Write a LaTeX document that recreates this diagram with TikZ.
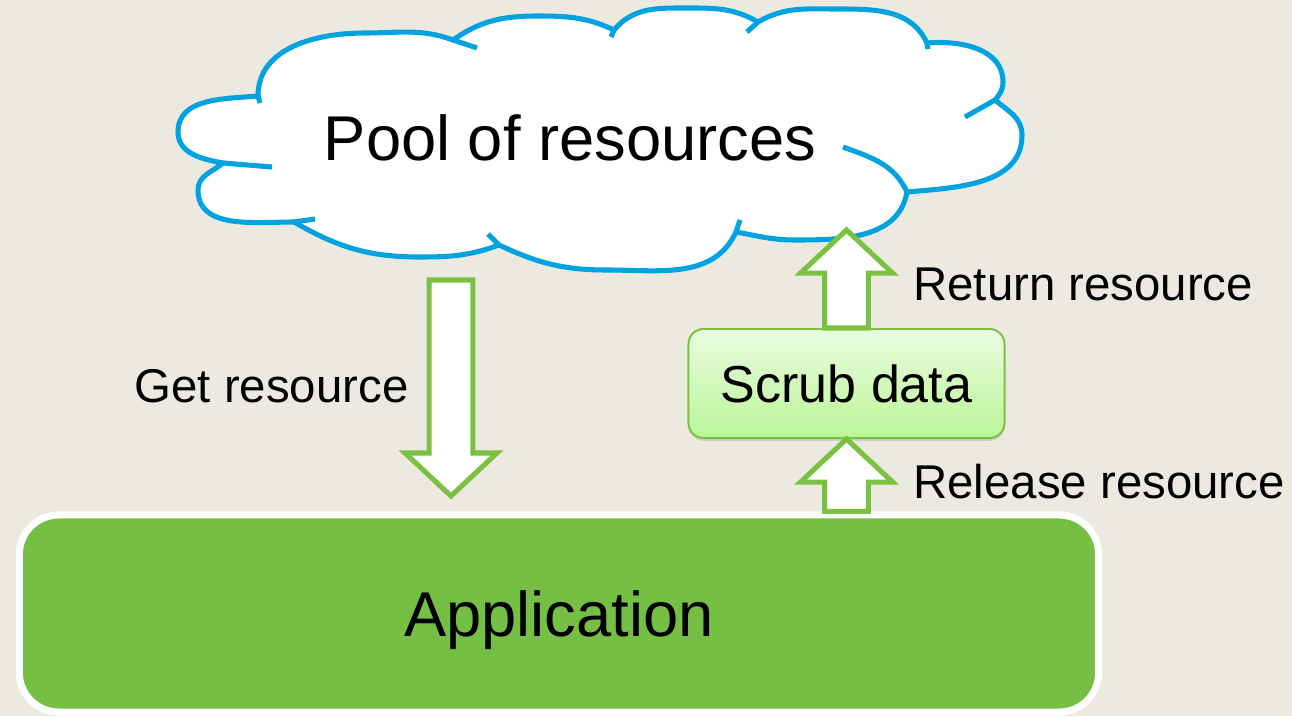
\documentclass[tikz,border=0pt]{standalone}
\usepackage{fontspec}
\setmainfont{Liberation Sans}
\usepackage{tikz}
\usetikzlibrary{calc}
\usetikzlibrary{shadows}

\definecolor{bgbeige}{RGB}{236,234,224}
\definecolor{cloudblue}{RGB}{0,163,224}
\definecolor{appgreen}{RGB}{116,191,68}
\definecolor{arrowgreen}{RGB}{122,193,66}
\definecolor{scrubtop}{RGB}{234,252,224}
\definecolor{scrubbottom}{RGB}{186,245,152}

\newcommand{\arrshaft}{15.6pt}
\newcommand{\arrhead}{32.7pt}
\newcommand{\arrlen}{30.6pt}
\newcommand{\blockarrow}[2]{%
	\draw[fatarrow] let \p1=(#1), \p2=(#2), \p3=($(#2)!\arrlen!(#1)$) in
		(\x1-\arrshaft,\y1) -- (\x1-\arrshaft,\y3) -- (\x1-\arrhead,\y3) -- (\x2,\y2)
		-- (\x1+\arrhead,\y3) -- (\x1+\arrshaft,\y3) -- (\x1+\arrshaft,\y1) -- cycle;}

\begin{document}
\begin{tikzpicture}[x=0.025cm, y=0.025cm,
	cloudedge/.style={draw=cloudblue, line width=3.6pt},
	fatarrow/.style={draw=arrowgreen, fill=white, line width=3.6pt},
	appbox/.style={rectangle, draw=white, line width=5pt, fill=appgreen, rounded corners=28pt,
		minimum width=26.975cm, minimum height=4.925cm, text depth=0pt,
		font=\fontsize{45}{54}\selectfont,
		drop shadow={shadow xshift=0pt, shadow yshift=-1.5pt, opacity=0.3}},
	scrubbox/.style={rectangle, draw=arrowgreen, line width=1.4pt, top color=scrubtop,
		bottom color=scrubbottom, rounded corners=10.7pt, minimum width=7.9cm,
		minimum height=2.725cm, font=\fontsize{37}{44}\selectfont,
		drop shadow={shadow xshift=0pt, shadow yshift=-2pt, opacity=0.25}},
	lbl/.style={inner sep=0pt, font=\fontsize{33.7}{40}\selectfont}]
	\useasboundingbox (0,0) rectangle (1292,-716);
	\fill[bgbeige] (0,0) rectangle (1292,-716);

	\filldraw[cloudedge, fill=white] (258,-96)
		to[out=90,in=180] (365,-33) to[out=0,in=160] (453,-40)
		to[out=35,in=180] (538,-16) to[out=0,in=155] (614,-30)
		to[out=50,in=180] (688,-8) to[out=0,in=150] (758,-22)
		to[out=30,in=180] (836,-9) to[out=0,in=115] (927,-43)
		to[out=5,in=90] (1003,-82) to[out=-90,in=50] (995,-100)
		to[out=-40,in=90] (1022,-135) to[out=-90,in=5] (907,-192)
		to[out=-100,in=0] (795,-240) to[out=180,in=-10] (736,-232)
		to[out=-115,in=0] (607,-270) to[out=180,in=-25] (499,-245)
		to[out=200,in=0] (420,-257) to[out=180,in=-30] (294,-222)
		to[out=180,in=-90] (198,-190) to[out=90,in=220] (223,-163)
		to[out=170,in=-90] (178,-132) to[out=90,in=185] (258,-96) -- cycle;
	\draw[cloudedge] (258,-96) -- (260,-103);
	\draw[cloudedge] (453,-40) -- (477,-48);
	\draw[cloudedge] (614,-30) -- (611,-37);
	\draw[cloudedge] (758,-22) -- (747,-32);
	\draw[cloudedge] (927,-43) -- (928,-49);
	\draw[cloudedge] (995,-100) -- (965,-117);
	\draw[cloudedge] (843,-147) to[out=-20,in=115] (907,-192);
	\draw[cloudedge] (736,-232) -- (740,-220);
	\draw[cloudedge] (499,-245) -- (488,-234);
	\draw[cloudedge] (294,-222) -- (315,-219);
	\draw[cloudedge] (223,-163) -- (272,-167);
	\node[anchor=base, font=\fontsize{45}{54}\selectfont] (pool) at (570,-160) {Pool of resources};

	\node[appbox] (app) at (559,-613.5) {Application};
	\node[scrubbox] (scrub) at (846.5,-383.5) {Scrub data};

	\coordinate (getfrom) at (451,-280);
	\coordinate (getto) at (451,-496);
	\coordinate (retto) at (846.5,-230);
	\coordinate (relfrom) at (app.north -| scrub);
	\blockarrow{getfrom}{getto}
	\blockarrow{scrub.north}{retto}
	\blockarrow{relfrom}{scrub.south}

	\node[lbl, anchor=base] (getlabel) at (271.5,-402) {Get resource};
	\node[lbl, anchor=base west] (retlabel) at (913,-300) {Return resource};
	\node[lbl, anchor=base west] (rellabel) at (913,-498) {Release resource};
\end{tikzpicture}
\end{document}
